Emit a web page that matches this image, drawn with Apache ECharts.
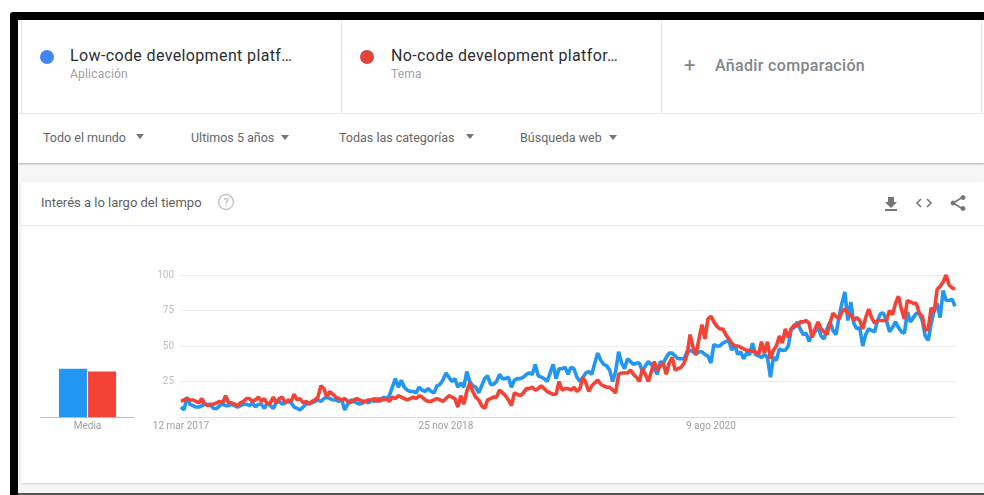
<!DOCTYPE html>
<html>
<head>
<meta charset="utf-8">
<title>Interés a lo largo del tiempo</title>
<script src="https://cdn.jsdelivr.net/npm/echarts@6/dist/echarts.min.js"></script>
<style>
html, body { margin: 0; padding: 0; background: #fff; }
body { width: 984px; height: 495px; position: relative; overflow: hidden; font-family: Roboto, Arial, sans-serif; }
.box { position: absolute; }
.txt { position: absolute; white-space: nowrap; line-height: 1; }
.arrow { position: absolute; width: 0; height: 0; border-left: 4.5px solid transparent; border-right: 4.5px solid transparent; border-top: 5px solid #757575; }
.dot { position: absolute; width: 14px; height: 14px; border-radius: 50%; }
.name { font-size: 16px; color: #2b2e33; letter-spacing: .37px; }
.sub { font-size: 12px; color: #a0a0a8; letter-spacing: .2px; }
.filter { font-size: 12.5px; color: #666; }
#chart { position: absolute; left: 0; top: 0; width: 984px; height: 495px; }
</style>
</head>
<body>
<!-- marco negro de la captura -->
<div class="box" style="left:10px;top:12px;width:974px;height:483px;background:#000;border-radius:3px 0 0 0"></div>
<div class="box" style="left:18px;top:20px;width:966px;height:474px;background:#f5f5f5"></div>
<div class="box" style="left:18px;top:493px;width:966px;height:2px;background:#555"></div>

<!-- cabecera de terminos -->
<div class="box" style="left:18px;top:20px;width:966px;height:143px;background:#fff;box-shadow:0 1px 2px rgba(0,0,0,.3)"></div>
<div class="box" style="left:21px;top:20px;width:1px;height:93px;background:#e4e4e4"></div>
<div class="box" style="left:341px;top:20px;width:1px;height:93px;background:#e4e4e4"></div>
<div class="box" style="left:661px;top:20px;width:1px;height:93px;background:#e4e4e4"></div>
<div class="box" style="left:981px;top:20px;width:1px;height:93px;background:#e4e4e4"></div>
<div class="box" style="left:18px;top:113px;width:966px;height:1px;background:#e4e4e4"></div>

<div class="dot" style="left:40px;top:50px;background:#4285f4"></div>
<div class="txt name" style="left:70px;top:48px">Low-code development platf…</div>
<div class="txt sub" style="left:70px;top:68px">Aplicación</div>
<div class="dot" style="left:360px;top:50px;background:#e2433a"></div>
<div class="txt name" style="left:391px;top:48px">No-code development platfor…</div>
<div class="txt sub" style="left:391px;top:68px">Tema</div>
<div class="txt" style="left:684px;top:55px;font-size:20px;color:#80868b">+</div>
<div class="txt" style="left:715px;top:58px;font-size:16px;font-weight:500;color:#80868b;letter-spacing:.33px">Añadir comparación</div>

<!-- filtros -->
<div class="txt filter" style="left:43px;top:132px">Todo el mundo</div>
<div class="arrow" style="left:136px;top:134px"></div>
<div class="txt filter" style="left:191px;top:132px">Ultimos 5 años</div>
<div class="arrow" style="left:281px;top:135px"></div>
<div class="txt filter" style="left:339px;top:132px">Todas las categorías</div>
<div class="arrow" style="left:466px;top:134px"></div>
<div class="txt filter" style="left:520px;top:132px">Búsqueda web</div>
<div class="arrow" style="left:609px;top:135px"></div>

<!-- tarjeta -->
<div class="box" style="left:21px;top:182px;width:963px;height:301px;background:#fff;box-shadow:0 1px 2px rgba(0,0,0,.15)"></div>
<div class="box" style="left:21px;top:225px;width:963px;height:1px;background:#e8e8e8"></div>
<div class="txt" style="left:41px;top:196px;font-size:13px;color:#5f5f5f">Interés a lo largo del tiempo</div>
<svg class="box" style="left:217px;top:193px" width="18" height="18" viewBox="0 0 18 18">
  <circle cx="9" cy="9" r="7.5" fill="none" stroke="#c4c4c4" stroke-width="1.4"/>
  <text x="9" y="13" text-anchor="middle" font-size="11" fill="#b0b0b0" font-family="Roboto">?</text>
</svg>
<svg class="box" style="left:883px;top:195px" width="16" height="17" viewBox="0 0 16 17" fill="#757575">
  <path d="M5 2h6v5h3l-6 6-6-6h3z"/><rect x="2" y="14" width="12" height="2"/>
</svg>
<svg class="box" style="left:915px;top:196px" width="18" height="14" viewBox="0 0 18 14" fill="none" stroke="#757575" stroke-width="1.6">
  <path d="M6 3L2 7l4 4M12 3l4 4-4 4"/>
</svg>
<svg class="box" style="left:949px;top:194px" width="18" height="18" viewBox="0 0 18 18" fill="#757575" stroke="#757575">
  <path d="M14 3L4 9l10 6" fill="none" stroke-width="1.6"/>
  <circle cx="14" cy="3.5" r="2"/><circle cx="4" cy="9" r="2"/><circle cx="14" cy="14.5" r="2"/>
</svg>

<div id="chart"></div>

<script>
const months = ['ene', 'feb', 'mar', 'abr', 'may', 'jun', 'jul', 'ago', 'sep', 'oct', 'nov', 'dic']
const averageLabels = ['Media']
const averageLowCode = [34]
const averageNoCode = [32]
const yTicks = [25, 50, 75, 100]

// interes semanal, 43 semanas por fila
const lowCode = [
  7,5,14,9,8,7,7,8,9,9,8,6,6,8,9,8,8,9,8,7,8,9,9,8,10,7,9,9,6,10,8,6,10,11,9,10,11,10,7,6,5,7,9,
  10,10,11,12,11,13,14,13,12,12,11,12,5,9,12,11,10,9,10,11,10,12,11,13,11,14,13,15,21,27,21,26,21,19,18,18,17,21,19,18,20,18,17,
  22,23,26,31,28,25,27,21,24,21,32,25,22,21,17,22,27,29,23,23,25,30,27,27,28,21,26,27,27,28,30,31,30,37,29,28,27,25,31,37,27,34,34,
  35,30,35,34,28,25,28,31,32,30,38,45,40,37,36,33,25,32,46,38,34,41,39,37,38,38,32,36,39,37,34,30,39,38,42,45,45,43,41,41,41,46,47,
  46,44,46,46,44,43,38,51,50,50,52,53,54,47,51,44,46,41,45,44,52,44,43,42,44,42,28,42,40,48,47,47,50,62,63,67,62,58,59,53,59,60,64,
  57,55,62,67,61,58,70,80,88,68,81,66,62,63,50,58,62,61,60,68,73,73,68,60,63,67,63,60,59,74,67,70,73,73,68,57,54,66,75,80,70,89,82,82,83,78
]
const noCode = [
  11,12,13,12,12,11,10,13,9,8,9,9,10,11,10,15,10,10,9,8,10,11,13,13,11,12,14,11,13,9,10,14,10,13,14,10,12,11,16,12,13,10,11,
  9,11,12,14,22,20,14,18,16,14,13,12,13,11,10,12,13,12,11,11,12,12,13,11,13,12,13,11,14,13,15,14,13,12,13,14,13,15,14,12,11,11,12,
  13,12,11,13,15,14,13,7,15,9,18,24,18,14,12,8,6,12,13,14,14,19,17,15,12,8,17,16,15,17,20,20,21,19,20,22,20,18,17,16,16,25,19,
  20,20,19,21,18,20,28,24,18,22,24,26,23,22,21,21,19,17,30,31,31,31,33,30,28,25,34,30,25,32,39,33,36,38,30,38,42,33,34,35,38,44,58,
  49,44,55,65,55,69,71,67,64,62,62,58,55,52,50,50,49,48,47,47,46,46,44,53,45,53,41,47,50,57,52,62,56,62,65,64,67,67,68,66,56,62,67,
  62,60,58,66,73,71,69,74,76,73,72,68,70,68,62,70,76,70,66,68,68,68,68,75,72,80,85,76,69,82,81,80,80,73,71,61,62,77,74,90,92,95,100,93,91,90
]

// una semana por punto a partir del 12 mar 2017
const weeks = lowCode.map((v, i) => {
  const d = new Date(Date.UTC(2017, 2, 12 + i * 7))
  return d.getUTCDate() + ' ' + months[d.getUTCMonth()] + ' ' + d.getUTCFullYear()
})
const shownWeeks = [0, 89, 178]

const chart = echarts.init(document.getElementById('chart'), null, { renderer: 'canvas' })
chart.setOption({
  animation: false,
  backgroundColor: 'transparent',
  textStyle: { fontFamily: 'Roboto' },
  grid: [
    { left: 41, width: 93, top: 275, height: 142 },
    { left: 181, width: 774, top: 275, height: 142 }
  ],
  xAxis: [
    {
      gridIndex: 0,
      type: 'category',
      data: averageLabels,
      axisTick: { show: false },
      axisLine: { lineStyle: { color: '#bdbdbd' } },
      axisLabel: { color: '#9e9e9e', fontSize: 10, margin: 4 }
    },
    {
      gridIndex: 1,
      type: 'category',
      data: weeks,
      boundaryGap: false,
      axisTick: { show: false },
      axisLine: { lineStyle: { color: '#dcdcdc' } },
      axisLabel: {
        color: '#9e9e9e',
        fontSize: 10,
        margin: 4,
        hideOverlap: false,
        interval: (i) => shownWeeks.includes(i)
      }
    }
  ],
  yAxis: [
    { gridIndex: 0, type: 'value', min: 0, max: 100, show: false },
    {
      gridIndex: 1,
      type: 'value',
      min: 0,
      max: 100,
      interval: 25,
      axisLine: { show: false },
      axisTick: { show: false },
      splitLine: { lineStyle: { color: '#eeeeee' } },
      axisLabel: {
        color: '#bdbdbd',
        fontSize: 10,
        margin: 7,
        formatter: (v) => (yTicks.includes(v) ? v : '')
      }
    }
  ],
  series: [
    {
      type: 'bar', xAxisIndex: 0, yAxisIndex: 0, data: averageLowCode,
      barWidth: 28, barGap: '4%', itemStyle: { color: '#2196f3' }
    },
    {
      type: 'bar', xAxisIndex: 0, yAxisIndex: 0, data: averageNoCode,
      barWidth: 28, itemStyle: { color: '#f44336' }
    },
    {
      type: 'line', xAxisIndex: 1, yAxisIndex: 1, data: lowCode, showSymbol: false,
      lineStyle: { color: '#2196f3', width: 3.6 }, itemStyle: { color: '#2196f3' }
    },
    {
      type: 'line', xAxisIndex: 1, yAxisIndex: 1, data: noCode, showSymbol: false,
      lineStyle: { color: '#f44336', width: 3.6 }, itemStyle: { color: '#f44336' }
    }
  ]
})
</script>
</body>
</html>
